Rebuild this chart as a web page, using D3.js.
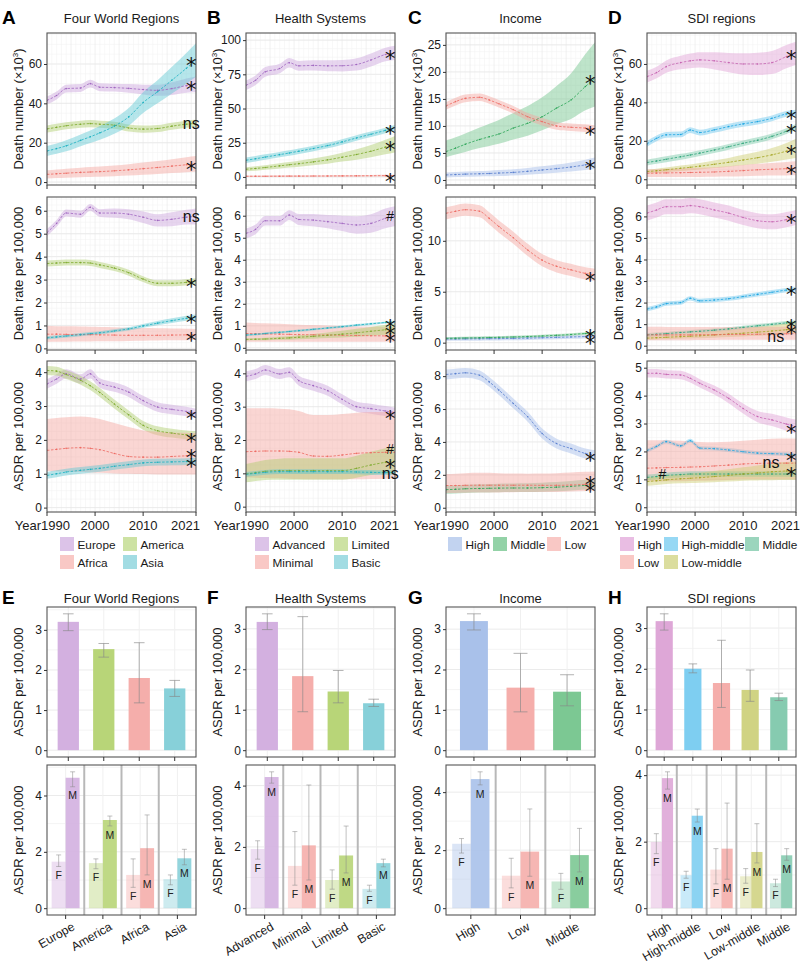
<!DOCTYPE html>
<html>
<head>
<meta charset="utf-8">
<script src="https://cdn.jsdelivr.net/npm/d3@7"></script>
<style>
body { margin: 0; background: #fff; }
svg { font-family: "Liberation Sans", Arial, Helvetica, sans-serif; }
</style>
</head>
<body>
<svg id="fig" width="800" height="961"></svg>
<script>
var YEARS = [1990, 1992, 1994, 1997, 1999, 2001, 2004, 2007, 2010, 2013, 2016, 2019, 2021];

// series rows: [name, mean, lower half-width, upper half-width (optional), mark, markYear, markValue]
var A_NUM = [
    ["Europe", [41.5,44,47.5,47.8,50,48.2,48,47.6,47,46.6,47.5,49,49.6], [2,2,2,2,2,2,2,2.2,2.5,2.8,3.2,3.6,4], null, "*"],
    ["America", [27,27.8,28.6,29.4,29.7,29.4,28.9,27.5,26.9,27.2,28.4,29.4,29.8], 1.8, null, "ns"],
    ["Africa", [3.9,4.2,4.5,4.9,5.1,5.3,5.7,6.2,6.8,7.4,8.1,8.8,9.3], [2.1,2.2,2.3,2.4,2.5,2.6,2.7,2.9,3.1,3.3,3.5,3.8,3.9], null, "*"],
    ["Asia", [15.8,17,18.4,21.2,23,25,28.4,33.1,40.4,45.9,51.8,57.8,62], [2.5,2.6,2.8,3,3.2,3.5,3.9,4.5,5.3,5.9,6.8,7.8,8.5], null, "*"]
];
var A_RATE = [
    ["Europe", [5.05,5.45,5.9,5.85,6.15,5.9,5.9,5.85,5.72,5.58,5.63,5.72,5.75], [0.15,0.15,0.15,0.15,0.15,0.17,0.2,0.22,0.25,0.27,0.3,0.32,0.35], null, "ns"],
    ["America", [3.7,3.72,3.74,3.74,3.72,3.64,3.5,3.3,3.02,2.84,2.84,2.88,2.93], 0.13, null, "*"],
    ["Africa", [0.62,0.62,0.61,0.6,0.6,0.59,0.58,0.57,0.57,0.57,0.58,0.59,0.6], [0.34,0.33,0.32,0.3,0.3,0.28,0.27,0.25,0.24,0.23,0.23,0.23,0.23], [0.36,0.35,0.35,0.35,0.34,0.34,0.34,0.33,0.32,0.31,0.29,0.27,0.25], "*"],
    ["Asia", [0.46,0.5,0.54,0.6,0.64,0.68,0.76,0.85,0.98,1.1,1.21,1.31,1.36], [0.07,0.07,0.07,0.07,0.07,0.07,0.07,0.07,0.08,0.09,0.1,0.11,0.12], null, "*"]
];
var A_ASDR = [
    ["Europe", [3.65,3.8,3.95,3.8,3.95,3.68,3.56,3.41,3.16,2.97,2.9,2.84,2.78], 0.14, null, "*"],
    ["America", [4.05,4.03,3.93,3.76,3.6,3.4,3.06,2.74,2.43,2.27,2.2,2.15,2.13], 0.13, null, "*"],
    ["Africa", [1.69,1.72,1.75,1.77,1.75,1.71,1.6,1.51,1.49,1.49,1.51,1.53,1.54], [0.61,0.65,0.69,0.72,0.71,0.68,0.59,0.51,0.5,0.51,0.53,0.55,0.56], [0.93,0.93,0.92,0.92,0.92,0.91,0.9,0.87,0.79,0.75,0.71,0.68,0.66], "*", 2020, 1.64],
    ["Asia", [0.95,1.0,1.05,1.1,1.13,1.16,1.22,1.27,1.32,1.34,1.35,1.36,1.37], 0.1, null, "*"]
];

var B_NUM = [
    ["Advanced", [67,70.7,76.8,79.2,83.5,81.2,81.5,81.2,81.3,82.2,85.5,89.5,90.7], [3.5,3.5,3.5,3.5,3.5,3.6,3.8,4,4.2,4.5,4.8,5,5.2], null, "*"],
    ["Minimal", [0.5,0.5,0.5,0.55,0.6,0.6,0.65,0.7,0.75,0.8,0.85,0.95,1.0], 0.6, null, "*"],
    ["Limited", [5.6,6.2,6.9,8.1,8.9,9.7,11,12.5,14.4,16.4,18.8,21.8,23.9], [1.5,1.6,1.7,1.9,2,2.2,2.5,2.8,3.2,3.8,4.5,5.3,6], null, "*"],
    ["Basic", [12.2,13.3,14.5,16.3,17.5,18.8,20.8,22.9,25.6,28.5,31.2,34,36], 2, null, "*"]
];
var B_RATE = [
    ["Advanced", [5.2,5.38,5.77,5.77,6.03,5.83,5.8,5.73,5.65,5.58,5.65,5.88,5.98], [0.22,0.22,0.22,0.22,0.22,0.25,0.28,0.3,0.35,0.4,0.42,0.45,0.45], null, "#"],
    ["Minimal", [0.65,0.64,0.63,0.62,0.61,0.6,0.59,0.58,0.57,0.56,0.55,0.54,0.53], [0.37,0.36,0.35,0.34,0.33,0.32,0.31,0.3,0.29,0.28,0.27,0.26,0.25], [0.5,0.49,0.48,0.47,0.46,0.45,0.44,0.43,0.42,0.41,0.41,0.41,0.41], "*"],
    ["Limited", [0.38,0.39,0.4,0.43,0.45,0.48,0.52,0.57,0.62,0.68,0.75,0.82,0.86], [0.05,0.05,0.06,0.07,0.08,0.09,0.11,0.13,0.15,0.18,0.2,0.23,0.25], null, "*"],
    ["Basic", [0.58,0.61,0.65,0.7,0.74,0.78,0.84,0.9,0.96,1.03,1.09,1.15,1.18], 0.05, null, "*"]
];
var B_ASDR = [
    ["Advanced", [3.91,3.98,4.1,3.98,4.03,3.78,3.63,3.48,3.22,3.0,2.94,2.87,2.82], 0.15, null, "*"],
    ["Minimal", [1.65,1.66,1.67,1.67,1.66,1.63,1.52,1.51,1.55,1.6,1.62,1.63,1.63], [0.77,0.79,0.81,0.82,0.82,0.8,0.7,0.69,0.73,0.78,0.79,0.79,0.78], [1.3,1.29,1.28,1.27,1.26,1.24,1.23,1.24,1.23,1.22,1.22,1.22,1.23], "#", 2020, 1.72],
    ["Limited", [0.98,1.02,1.06,1.08,1.08,1.08,1.08,1.08,1.08,1.15,1.25,1.33,1.37], [0.25,0.25,0.26,0.27,0.27,0.27,0.27,0.27,0.27,0.28,0.3,0.33,0.35], [0.3,0.32,0.34,0.36,0.37,0.37,0.37,0.37,0.37,0.38,0.4,0.42,0.45], "*", 2020, 1.33],
    ["Basic", [0.97,1.0,1.03,1.05,1.05,1.05,1.05,1.05,1.05,1.04,1.03,1.02,1.02], 0.07, null, "ns", 2020, 0.99]
];

var C_NUM = [
    ["High", [0.93,1.0,1.08,1.15,1.2,1.28,1.4,1.6,1.85,2.1,2.4,2.8,3.1], [0.45,0.47,0.5,0.5,0.52,0.55,0.58,0.62,0.68,0.75,0.85,0.95,1.05], null, "*"],
    ["Middle", [5.25,5.9,6.6,7.5,8.0,8.5,9.6,10.5,11.7,13.3,14.8,17.3,18.8], [1.05,1.2,1.4,1.6,1.7,1.8,2.1,2.3,2.5,3,3.5,4.4,5.2], [2.05,2,2,2.2,2.4,2.6,2.8,3.2,3.6,4.1,4.9,6,6.7], "*"],
    ["Low", [13.7,14.5,15.1,15.3,14.8,14.1,13.0,11.7,10.8,10.0,9.75,9.6,9.4], 0.7, null, "*"]
];
var C_RATE = [
    ["High", [0.35,0.36,0.37,0.38,0.39,0.4,0.42,0.45,0.48,0.52,0.56,0.6,0.62], 0.18, null, "*", 2020, 0.45],
    ["Middle", [0.42,0.44,0.46,0.48,0.5,0.52,0.56,0.6,0.66,0.72,0.8,0.9,0.95], 0.12, null, "*", 2020, 1.05],
    ["Low", [12.7,12.9,13.05,12.9,12.2,11.4,10.3,9.1,8.1,7.5,7.15,6.8,6.65], 0.6, null, "*"]
];
var C_ASDR = [
    ["High", [8.1,8.15,8.2,8.05,7.65,7.15,6.34,5.53,4.51,3.9,3.6,3.3,3.2], 0.3, null, "*"],
    ["Middle", [1.1,1.12,1.15,1.17,1.18,1.19,1.2,1.2,1.22,1.25,1.3,1.36,1.4], 0.25, [0.25,0.25,0.25,0.25,0.26,0.27,0.28,0.29,0.3,0.31,0.33,0.34,0.35], "*", 2020, 1.75],
    ["Low", [1.35,1.35,1.36,1.37,1.37,1.37,1.37,1.37,1.36,1.36,1.38,1.42,1.45], [0.45,0.45,0.45,0.45,0.45,0.44,0.43,0.42,0.41,0.4,0.4,0.41,0.42], [0.7,0.72,0.74,0.75,0.75,0.73,0.71,0.7,0.72,0.74,0.76,0.76,0.75], "*", 2020, 1.3]
];

var D_NUM = [
    ["High", [53.4,55.5,58.6,60.7,61.6,62.1,61.6,60.7,60,60,60.7,63.8,65.5], [3,3,3.2,3.5,3.8,4,4.5,5,5.5,5.8,6,6,6], null, "*"],
    ["High-middle", [18.4,21.3,23.1,23.3,25.6,24.3,25.7,27.4,28.8,30,31.7,34,34.7], 1.5, null, "*"],
    ["Middle", [8.7,9.5,10.4,11.7,12.6,13.6,15.2,16.9,18.7,20.3,22.3,25,27.2], 1.5, null, "*"],
    ["Low-middle", [4,4.4,4.9,5.7,6.2,6.8,7.8,8.8,10,11.2,12.7,14.6,16.1], [1,1.1,1.2,1.4,1.5,1.7,2,2.3,2.7,3.1,3.6,4.3,5], null, "*"],
    ["Low", [3.1,3.2,3.3,3.4,3.5,3.6,3.8,4.1,4.5,4.9,5.2,5.5,5.7], [2,2,2.1,2.2,2.3,2.4,2.5,2.7,2.9,3.1,3.3,3.5,3.6], null, "*"]
];
var D_RATE = [
    ["High", [6.15,6.3,6.45,6.45,6.5,6.45,6.3,6.15,5.95,5.8,5.75,5.85,5.95], 0.35, null, "*"],
    ["High-middle", [1.7,1.8,1.95,2.0,2.2,2.08,2.12,2.18,2.28,2.38,2.48,2.58,2.62], 0.1, null, "*"],
    ["Middle", [0.5,0.53,0.56,0.61,0.64,0.67,0.72,0.78,0.85,0.92,0.99,1.06,1.1], 0.08, null, "*"],
    ["Low-middle", [0.35,0.37,0.39,0.42,0.44,0.46,0.5,0.54,0.58,0.63,0.68,0.74,0.78], [0.08,0.08,0.09,0.1,0.11,0.12,0.13,0.14,0.15,0.17,0.18,0.2,0.2], [0.1,0.1,0.11,0.12,0.13,0.15,0.17,0.19,0.21,0.24,0.26,0.29,0.3], "*", 2020, 0.82],
    ["Low", [0.5,0.5,0.5,0.5,0.5,0.51,0.51,0.52,0.52,0.53,0.54,0.55,0.56], [0.25,0.25,0.25,0.25,0.25,0.25,0.25,0.25,0.25,0.25,0.26,0.27,0.28], [0.38,0.38,0.37,0.37,0.37,0.36,0.36,0.35,0.35,0.35,0.34,0.34,0.34], "ns", 2016.8, 0.42]
];
var D_ASDR = [
    ["High", [4.8,4.8,4.76,4.74,4.62,4.44,4.2,3.9,3.54,3.25,3.13,2.98,2.89], [0.15,0.15,0.15,0.15,0.15,0.15,0.16,0.17,0.18,0.2,0.22,0.24,0.25], null, "*"],
    ["High-middle", [2.03,2.18,2.35,2.2,2.38,2.12,2.1,2.05,1.99,1.94,1.92,1.9,1.87], 0.07, null, "*"],
    ["Low", [1.4,1.41,1.42,1.43,1.44,1.45,1.48,1.51,1.55,1.57,1.58,1.58,1.58], [0.48,0.49,0.49,0.5,0.5,0.5,0.52,0.53,0.55,0.57,0.58,0.58,0.58], [1.0,0.99,0.98,0.95,0.92,0.89,0.85,0.84,0.83,0.85,0.87,0.88,0.88], "ns", 2015.8, 1.62],
    ["Middle", [1.07,1.1,1.14,1.17,1.19,1.19,1.19,1.19,1.19,1.19,1.19,1.19,1.19], 0.1, null, "#", 1993.2, 1.2],
    ["Low-middle", [0.92,0.95,0.98,1.02,1.04,1.06,1.1,1.14,1.19,1.23,1.27,1.3,1.31], [0.15,0.15,0.15,0.16,0.17,0.18,0.2,0.22,0.24,0.27,0.3,0.32,0.33], null, "*", 2020, 1.33]
];

// bar panels: overall ASDR (mean, lower, upper) and by sex
var E_CATS = ["Europe", "America", "Africa", "Asia"];
var E_ALL = [3.2, 2.52, 1.8, 1.54], E_ALL_LO = [2.98, 2.32, 1.18, 1.34], E_ALL_HI = [3.4, 2.66, 2.68, 1.74];
var E_F = [1.65, 1.6, 1.18, 1.03], E_F_LO = [1.48, 1.4, 0.74, 0.83], E_F_HI = [1.89, 1.75, 1.75, 1.18];
var E_M = [4.63, 3.13, 2.13, 1.77], E_M_LO = [4.31, 2.92, 1.18, 1.54], E_M_HI = [4.84, 3.27, 3.31, 2.09];

var F_CATS = ["Advanced", "Minimal", "Limited", "Basic"];
var F_ALL = [3.17, 1.83, 1.45, 1.16], F_ALL_LO = [2.98, 0.95, 1.17, 1.08], F_ALL_HI = [3.37, 3.3, 1.97, 1.26];
var F_F = [1.93, 1.38, 0.92, 0.63], F_F_LO = [1.6, 0.75, 0.62, 0.55], F_F_HI = [2.2, 2.5, 1.25, 0.75];
var F_M = [4.28, 2.05, 1.72, 1.47], F_M_LO = [4.08, 0.92, 1.15, 1.35], F_M_HI = [4.45, 4.02, 2.68, 1.6];

var G_CATS = ["High", "Low", "Middle"];
var G_ALL = [3.2, 1.55, 1.45], G_ALL_LO = [2.98, 0.95, 1.1], G_ALL_HI = [3.38, 2.4, 1.87];
var G_F = [2.22, 1.12, 0.92], G_F_LO = [1.9, 0.7, 0.65], G_F_HI = [2.4, 1.72, 1.2];
var G_M = [4.45, 1.95, 1.83], G_M_LO = [4.25, 1.1, 1.25], G_M_HI = [4.7, 3.42, 2.75];

var H_CATS = ["High", "High-middle", "Low", "Low-middle", "Middle"];
var H_ALL = [3.17, 2.0, 1.65, 1.48, 1.3], H_ALL_LO = [2.95, 1.9, 1.05, 1.2, 1.22], H_ALL_HI = [3.35, 2.12, 2.7, 1.97, 1.4];
var H_F = [1.99, 0.99, 1.16, 0.96, 0.75], H_F_LO = [1.64, 0.9, 0.73, 0.75, 0.65], H_F_HI = [2.24, 1.11, 1.79, 1.19, 0.87];
var H_M = [3.91, 2.78, 1.79, 1.69, 1.59], H_M_LO = [3.58, 2.59, 0.87, 1.36, 1.44], H_M_HI = [4.1, 2.98, 3.16, 2.54, 1.79];

// colours: line, ribbon, bar, legend key
var PURPLE = {line: "#a066c0", fill: "#c9a2dc", bar: "#d3b0e0", key: "#dcc3e8"};
var GREEN = {line: "#7eaa2c", fill: "#adcc6a", bar: "#b8d578", key: "#cde2a3"};
var PINK = {line: "#ee6a62", fill: "#f5a39d", bar: "#f5aeab", key: "#f9c8c5"};
var CYAN = {line: "#1bb0c0", fill: "#5ec8d3", bar: "#87d0d9", key: "#a2dce3"};
var PAL_REGION = {Europe: PURPLE, America: GREEN, Africa: PINK, Asia: CYAN};
var PAL_HEALTH = {Advanced: PURPLE, Limited: GREEN, Minimal: PINK, Basic: CYAN};
var PAL_INCOME = {
    High: {line: "#5a80cf", fill: "#a2bbe8", bar: "#a9c1ea", key: "#c2d3f0"},
    Middle: {line: "#2aa456", fill: "#6fc489", bar: "#7cc893", key: "#93d2a7"},
    Low: PINK
};
var PAL_SDI = {
    High: {line: "#c765b2", fill: "#dfa0d5", bar: "#dea7d7", key: "#e9bde3"},
    "High-middle": {line: "#1ea6e2", fill: "#69c5ee", bar: "#7ecef1", key: "#97d8f4"},
    Middle: {line: "#2fa57a", fill: "#75c8a6", bar: "#86cbb0", key: "#9bd5bd"},
    Low: PINK,
    "Low-middle": {line: "#a5a625", fill: "#cccd6c", bar: "#d0d383", key: "#dbdd9e"}
};

var svg = d3.select("#fig");
var PW = 149;
var COLS = [47, 246, 446, 647];
var ROWS = [[33, 185], [197, 350], [361, 512]];
var TXT = "#1a1a1a";

function hw(v, i) { return Array.isArray(v) ? v[i] : v; }

function rotTitle(g, x, cy, parts) {
    var t = g.append("text")
        .attr("transform", "translate(" + x + "," + cy + ") rotate(-90)")
        .attr("text-anchor", "middle").attr("dy", "0.35em")
        .attr("font-size", 13).attr("fill", TXT);
    t.append("tspan").text(parts[0]);
    if (parts.length > 1) {
        t.append("tspan").attr("font-size", 8).attr("dy", -5).text(parts[1]);
        t.append("tspan").attr("dy", 5).text(parts[2]);
    }
}

function mark(g, x, y, s) {
    if (s === "*") {
        g.append("text").attr("x", x).attr("y", y).attr("dy", "0.62em")
            .attr("text-anchor", "middle").attr("font-family", "DejaVu Sans")
            .attr("font-size", 21).attr("fill", "#111").text("*");
    } else {
        g.append("text").attr("x", x).attr("y", y).attr("dy", "0.35em")
            .attr("text-anchor", "middle").attr("font-size", s === "#" ? 14 : 16)
            .attr("fill", "#111").text(s);
    }
}

function styleAxis(a) {
    a.select(".domain").remove();
    a.selectAll("line").attr("stroke", "#333");
    a.selectAll("text").attr("font-size", 12).attr("fill", TXT).attr("font-family", null);
}

var clipId = 0;
function linePanel(col, row, series, pal, ydom, yticks, ytitle) {
    var left = COLS[col], top = ROWS[row][0], bottom = ROWS[row][1];
    var x = d3.scaleLinear().domain([1990, 2021]).range([left, left + PW]);
    var y = d3.scaleLinear().domain(ydom).range([bottom, top]);
    var g = svg.append("g");

    // fine grid
    var step = yticks[1] - yticks[0];
    var minor = d3.range(Math.ceil(ydom[0] / (step / 4)) * step / 4, ydom[1], step / 4);
    g.selectAll(".hm").data(minor).enter().append("line")
        .attr("x1", left).attr("x2", left + PW)
        .attr("y1", d => y(d)).attr("y2", d => y(d))
        .attr("stroke", "#f3f3f3").attr("stroke-width", 0.6);
    g.selectAll(".vm").data(d3.range(1990, 2022)).enter().append("line")
        .attr("x1", d => x(d)).attr("x2", d => x(d))
        .attr("y1", top).attr("y2", bottom)
        .attr("stroke", d => d % 5 === 0 ? "#e8e8e8" : "#f4f4f4").attr("stroke-width", 0.6);
    g.selectAll(".hM").data(yticks).enter().append("line")
        .attr("x1", left).attr("x2", left + PW)
        .attr("y1", d => y(d)).attr("y2", d => y(d))
        .attr("stroke", "#e6e6e6").attr("stroke-width", 0.7);

    var cid = "clip" + (clipId++);
    svg.append("clipPath").attr("id", cid).append("rect")
        .attr("x", left).attr("y", top).attr("width", PW).attr("height", bottom - top);
    var pg = g.append("g").attr("clip-path", "url(#" + cid + ")");

    var area = d3.area().curve(d3.curveMonotoneX)
        .x(d => x(d.yr)).y0(d => y(d.lo)).y1(d => y(d.hi));
    var line = d3.line().curve(d3.curveMonotoneX).x(d => x(d.yr)).y(d => y(d.m));

    var pts = series.map(function(s) {
        return YEARS.map(function(yr, i) {
            var wl = hw(s[2], i), wh = s[3] == null ? wl : hw(s[3], i);
            return {yr: yr, m: s[1][i], lo: s[1][i] - wl, hi: s[1][i] + wh};
        });
    });
    series.forEach(function(s, k) {
        pg.append("path").datum(pts[k]).attr("d", area)
            .attr("fill", pal[s[0]].fill).attr("fill-opacity", 0.45);
    });
    series.forEach(function(s, k) {
        pg.append("path").datum(pts[k]).attr("d", line)
            .attr("fill", "none").attr("stroke", pal[s[0]].line)
            .attr("stroke-width", 0.8).attr("stroke-dasharray", "2.5,1.5");
        pg.selectAll(null).data(pts[k]).enter().append("circle")
            .attr("cx", d => x(d.yr)).attr("cy", d => y(d.m)).attr("r", 0.8)
            .attr("fill", pal[s[0]].line);
    });

    // border and axes
    g.append("rect").attr("x", left).attr("y", top).attr("width", PW).attr("height", bottom - top)
        .attr("fill", "none").attr("stroke", "#555").attr("stroke-width", 1.1);
    var ya = g.append("g").attr("transform", "translate(" + left + ",0)")
        .call(d3.axisLeft(y).tickValues(yticks).tickSize(3).tickPadding(2).tickFormat(d3.format(",")));
    styleAxis(ya);

    var xt = [1990, 2000, 2010, 2021];
    g.selectAll(".xt").data(xt).enter().append("line")
        .attr("x1", d => x(d)).attr("x2", d => x(d)).attr("y1", bottom).attr("y2", bottom + 4)
        .attr("stroke", "#333");
    if (row === 2) {
        xt.forEach(function(v, i) {
            var t = g.append("text").attr("y", bottom + 18).attr("font-size", 13).attr("fill", TXT).text(v);
            if (i === 0) t.attr("x", x(v) - 6).attr("text-anchor", "start");
            else if (i === 3) t.attr("x", x(v) + 4).attr("text-anchor", "end");
            else t.attr("x", x(v)).attr("text-anchor", "middle");
        });
        g.append("text").attr("x", x(1990) - 6).attr("y", bottom + 18).attr("text-anchor", "end")
            .attr("font-size", 13).attr("fill", TXT).text("Year");
    }
    rotTitle(g, left - 28.5, (top + bottom) / 2, ytitle);

    series.forEach(function(s) {
        if (!s[4]) return;
        var yr = s[5] || 2020, v = s[6] != null ? s[6] : s[1][s[1].length - 1];
        mark(g, x(yr), y(v), s[4]);
    });
}

function legend(items, pal) {
    items.forEach(function(it) {
        svg.append("rect").attr("x", it[1]).attr("y", it[2]).attr("width", 14).attr("height", 14)
            .attr("fill", pal[it[0]].key);
        svg.append("text").attr("x", it[1] + 17.5).attr("y", it[2] + 11.5)
            .attr("font-size", 11.8).attr("fill", TXT).text(it[0]);
    });
}

function header(col, y, letter, title) {
    svg.append("text").attr("x", [2, 207, 408, 608][col]).attr("y", y + 1)
        .attr("font-size", 19).attr("font-weight", "bold").attr("fill", "#000").text(letter);
    svg.append("text").attr("x", COLS[col] + PW / 2).attr("y", y)
        .attr("text-anchor", "middle").attr("font-size", 13).attr("fill", TXT).text(title);
}

function errbar(g, xc, cw, ylo, yhi) {
    g.append("line").attr("x1", xc).attr("x2", xc).attr("y1", ylo).attr("y2", yhi);
    g.append("line").attr("x1", xc - cw / 2).attr("x2", xc + cw / 2).attr("y1", ylo).attr("y2", ylo);
    g.append("line").attr("x1", xc - cw / 2).attr("x2", xc + cw / 2).attr("y1", yhi).attr("y2", yhi);
}

function barPanel(col, cats, pal, all, allLo, allHi, fem, femLo, femHi, mal, malLo, malHi) {
    var left = COLS[col], n = cats.length;
    var T = [607, 757], B = [765, 915];

    // overall bars
    var x1 = d3.scaleLinear().domain([0.4, n + 0.6]).range([left, left + PW]);
    var m1 = d3.max(allHi);
    var y1 = d3.scaleLinear().domain([-0.05 * m1, 1.05 * m1]).range([T[1], T[0]]);
    var g = svg.append("g");
    var grid1 = d3.range(0, 1.05 * m1, 0.5);
    g.selectAll(null).data(grid1).enter().append("line")
        .attr("x1", left).attr("x2", left + PW).attr("y1", d => y1(d)).attr("y2", d => y1(d))
        .attr("stroke", d => d % 1 === 0 ? "#ebebeb" : "#f4f4f4");
    g.selectAll(null).data(d3.range(1, n + 1)).enter().append("line")
        .attr("x1", d => x1(d)).attr("x2", d => x1(d)).attr("y1", T[0]).attr("y2", T[1])
        .attr("stroke", "#f0f0f0");
    var bw = x1(0.6) - x1(0);
    g.selectAll(null).data(all).enter().append("rect")
        .attr("x", (d, i) => x1(i + 1) - bw / 2).attr("width", bw)
        .attr("y", d => y1(d)).attr("height", d => y1(0) - y1(d))
        .attr("fill", (d, i) => pal[cats[i]].bar);
    var eg = g.append("g").attr("stroke", "#888").attr("stroke-width", 0.8).attr("stroke-opacity", 0.8);
    all.forEach(function(d, i) { errbar(eg, x1(i + 1), bw * 0.5, y1(allLo[i]), y1(allHi[i])); });
    g.append("rect").attr("x", left).attr("y", T[0]).attr("width", PW).attr("height", T[1] - T[0])
        .attr("fill", "none").attr("stroke", "#555").attr("stroke-width", 1.1);
    var ya = g.append("g").attr("transform", "translate(" + left + ",0)")
        .call(d3.axisLeft(y1).tickValues([0, 1, 2, 3]).tickSize(3).tickPadding(2).tickFormat(d3.format("d")));
    styleAxis(ya);
    g.selectAll(null).data(d3.range(1, n + 1)).enter().append("line")
        .attr("x1", d => x1(d)).attr("x2", d => x1(d)).attr("y1", T[1]).attr("y2", T[1] + 4)
        .attr("stroke", "#333");
    rotTitle(g, left - 28.5, (T[0] + T[1]) / 2, ["ASDR per 100,000"]);

    // by sex
    var x2 = d3.scaleLinear().domain([0.5, n + 0.5]).range([left, left + PW]);
    var m2 = d3.max(malHi.concat(femHi));
    var y2 = d3.scaleLinear().domain([-0.05 * m2, 1.05 * m2]).range([B[1], B[0]]);
    var h = svg.append("g");
    h.selectAll(null).data(d3.range(0, 1.05 * m2, 1)).enter().append("line")
        .attr("x1", left).attr("x2", left + PW).attr("y1", d => y2(d)).attr("y2", d => y2(d))
        .attr("stroke", d => d % 2 === 0 ? "#ebebeb" : "#f4f4f4");
    h.selectAll(null).data(d3.range(1, n + 1)).enter().append("line")
        .attr("x1", d => x2(d)).attr("x2", d => x2(d)).attr("y1", B[0]).attr("y2", B[1])
        .attr("stroke", "#f0f0f0");
    h.selectAll(null).data(d3.range(1, n)).enter().append("line")
        .attr("x1", d => x2(d + 0.5)).attr("x2", d => x2(d + 0.5)).attr("y1", B[0]).attr("y2", B[1])
        .attr("stroke", "#b8b8b8").attr("stroke-width", 2);
    var sw = x2(0.375) - x2(0);
    var sexes = [["F", fem, femLo, femHi, -1, 0.42], ["M", mal, malLo, malHi, 0, 0.9]];
    sexes.forEach(function(sx) {
        h.selectAll(null).data(sx[1]).enter().append("rect")
            .attr("x", (d, i) => x2(i + 1) + sx[4] * sw).attr("width", sw)
            .attr("y", d => y2(d)).attr("height", d => y2(0) - y2(d))
            .attr("fill", (d, i) => pal[cats[i]].bar).attr("fill-opacity", sx[5]);
    });
    var eg2 = h.append("g").attr("stroke", "#888").attr("stroke-width", 0.7).attr("stroke-opacity", 0.75);
    sexes.forEach(function(sx) {
        sx[1].forEach(function(d, i) {
            var xc = x2(i + 1) + sx[4] * sw + sw / 2;
            errbar(eg2, xc, 5, y2(sx[2][i]), y2(sx[3][i]));
            h.append("text").attr("x", xc).attr("y", y2(sx[2][i]) + 9).attr("dy", "0.35em")
                .attr("text-anchor", "middle").attr("font-size", 10.5).attr("fill", "#222").text(sx[0]);
        });
    });
    h.append("rect").attr("x", left).attr("y", B[0]).attr("width", PW).attr("height", B[1] - B[0])
        .attr("fill", "none").attr("stroke", "#555").attr("stroke-width", 1.1);
    var yb = h.append("g").attr("transform", "translate(" + left + ",0)")
        .call(d3.axisLeft(y2).tickValues([0, 2, 4]).tickSize(3).tickPadding(2).tickFormat(d3.format("d")));
    styleAxis(yb);
    cats.forEach(function(c, i) {
        h.append("line").attr("x1", x2(i + 1)).attr("x2", x2(i + 1)).attr("y1", B[1]).attr("y2", B[1] + 4)
            .attr("stroke", "#333");
        h.append("text").attr("transform", "translate(" + (x2(i + 1) + 10) + "," + (B[1] + 14) + ") rotate(-30)")
            .attr("text-anchor", "end").attr("font-size", 12.2).attr("fill", TXT).text(c);
    });
    rotTitle(h, left - 28.5, (B[0] + B[1]) / 2, ["ASDR per 100,000"]);
}

var T_NUM = ["Death number (\u00d710", "3", ")"];
var T_RATE = ["Death rate per 100,000"];
var T_ASDR = ["ASDR per 100,000"];

header(0, 23, "A", "Four World Regions");
header(1, 23, "B", "Health Systems");
header(2, 23, "C", "Income");
header(3, 23, "D", "SDI regions");

linePanel(0, 0, A_NUM, PAL_REGION, [-1.5, 75.75], [0, 20, 40, 60], T_NUM);
linePanel(0, 1, A_RATE, PAL_REGION, [-0.07, 6.6], [0, 1, 2, 3, 4, 5, 6], T_RATE);
linePanel(0, 2, A_ASDR, PAL_REGION, [-0.13, 4.33], [0, 1, 2, 3, 4], T_ASDR);
linePanel(1, 0, B_NUM, PAL_HEALTH, [-5.9, 105.2], [0, 25, 50, 75, 100], T_NUM);
linePanel(1, 1, B_RATE, PAL_HEALTH, [-0.1, 6.85], [0, 1, 2, 3, 4, 5, 6], T_RATE);
linePanel(1, 2, B_ASDR, PAL_HEALTH, [-0.16, 4.37], [0, 1, 2, 3, 4], T_ASDR);
linePanel(2, 0, C_NUM, PAL_INCOME, [-0.93, 27.2], [0, 5, 10, 15, 20, 25], T_NUM);
linePanel(2, 1, C_RATE, PAL_INCOME, [-0.72, 14.3], [0, 5, 10], T_RATE);
linePanel(2, 2, C_ASDR, PAL_INCOME, [-0.26, 8.92], [0, 2, 4, 6, 8], T_ASDR);
linePanel(3, 0, D_NUM, PAL_SDI, [-3.0, 76.1], [0, 20, 40, 60], T_NUM);
linePanel(3, 1, D_RATE, PAL_SDI, [-0.2, 6.9], [0, 1, 2, 3, 4, 5, 6], T_RATE);
linePanel(3, 2, D_ASDR, PAL_SDI, [-0.17, 5.24], [0, 1, 2, 3, 4, 5], T_ASDR);

legend([["Europe", 60, 537], ["America", 123, 537], ["Africa", 60, 555], ["Asia", 123, 555]], PAL_REGION);
legend([["Advanced", 255, 537], ["Limited", 334, 537], ["Minimal", 255, 555], ["Basic", 334, 555]], PAL_HEALTH);
legend([["High", 448, 537], ["Middle", 493, 537], ["Low", 547, 537]], PAL_INCOME);
legend([["High", 620, 537], ["High-middle", 664, 537], ["Middle", 745, 537], ["Low", 620, 555], ["Low-middle", 664, 555]], PAL_SDI);

header(0, 603, "E", "Four World Regions");
header(1, 603, "F", "Health Systems");
header(2, 603, "G", "Income");
header(3, 603, "H", "SDI regions");

barPanel(0, E_CATS, PAL_REGION, E_ALL, E_ALL_LO, E_ALL_HI, E_F, E_F_LO, E_F_HI, E_M, E_M_LO, E_M_HI);
barPanel(1, F_CATS, PAL_HEALTH, F_ALL, F_ALL_LO, F_ALL_HI, F_F, F_F_LO, F_F_HI, F_M, F_M_LO, F_M_HI);
barPanel(2, G_CATS, PAL_INCOME, G_ALL, G_ALL_LO, G_ALL_HI, G_F, G_F_LO, G_F_HI, G_M, G_M_LO, G_M_HI);
barPanel(3, H_CATS, PAL_SDI, H_ALL, H_ALL_LO, H_ALL_HI, H_F, H_F_LO, H_F_HI, H_M, H_M_LO, H_M_HI);
</script>
</body>
</html>
